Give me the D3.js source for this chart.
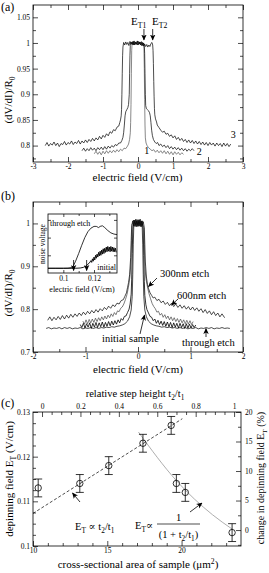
<!DOCTYPE html>
<html><head><meta charset="utf-8">
<script src="https://cdn.jsdelivr.net/npm/d3@7"></script>
<style>body{margin:0;background:#fff}svg{display:block}svg text{font-family:"Liberation Serif","Times New Roman","DejaVu Serif",serif}</style>
</head><body><svg id="c" width="269" height="573"></svg>
<script>
// ---------------- DATA ----------------
// Panel (a): dV/dI / R0 vs electric field, three samples
const a_curve3 = [[-2.65,.800],[-2.60,.806],[-2.55,.799],[-2.50,.804],[-2.45,.801],[-2.40,.807],[-2.35,.800],[-2.30,.805],[-2.25,.798],[-2.20,.804],[-2.15,.802],[-2.10,.808],[-2.05,.801],[-2.00,.806],[-1.95,.803],[-1.90,.809],[-1.85,.802],[-1.80,.807],[-1.75,.804],[-1.70,.810],[-1.65,.803],[-1.60,.809],[-1.55,.805],[-1.50,.811],[-1.45,.806],[-1.40,.812],[-1.35,.808],[-1.30,.814],[-1.25,.809],[-1.20,.815],[-1.15,.811],[-1.10,.818],[-1.05,.813],[-1.00,.820],[-0.95,.816],[-0.90,.823],[-0.85,.819],[-0.80,.827],[-0.75,.824],[-0.70,.831],[-0.65,.829],[-0.60,.836],[-0.55,.838],[-0.52,.845],[-0.50,.850],[-0.48,.858],[-0.47,.870],[-0.46,.900],[-0.45,.940],[-0.44,.975],[-0.43,.992],[-0.41,1.001],[-0.38,.996],[-0.35,1.002],[-0.32,.997],[-0.29,1.001],[-0.26,.995],[-0.23,1.003],[-0.20,.998],[-0.17,1.002],[-0.14,.996],[-0.11,1.004],[-0.08,.997],[-0.05,1.001],[-0.02,.996],[0.01,1.003],[0.04,.998],[0.07,1.002],[0.10,.995],[0.13,1.001],[0.16,.994],[0.19,.998],[0.22,.993],[0.25,.997],[0.28,.992],[0.31,.996],[0.34,.993],[0.37,.999],[0.40,1.001],[0.42,.996],[0.43,.985],[0.44,.960],[0.45,.925],[0.46,.895],[0.47,.872],[0.48,.860],[0.50,.852],[0.53,.846],[0.55,.840],[0.60,.835],[0.65,.830],[0.70,.826],[0.75,.828],[0.80,.822],[0.85,.824],[0.90,.818],[0.95,.821],[1.00,.815],[1.05,.819],[1.10,.812],[1.15,.816],[1.20,.810],[1.25,.814],[1.30,.808],[1.35,.812],[1.40,.806],[1.45,.811],[1.50,.805],[1.55,.810],[1.60,.804],[1.65,.809],[1.70,.803],[1.75,.808],[1.80,.802],[1.85,.807],[1.90,.801],[1.95,.806],[2.00,.800],[2.05,.806],[2.10,.801],[2.15,.805],[2.20,.799],[2.25,.805],[2.30,.800],[2.35,.804],[2.40,.798],[2.45,.805],[2.50,.799],[2.55,.804],[2.60,.798],[2.65,.803]];
const a_curve2 = [[-1.60,.790],[-1.55,.795],[-1.50,.789],[-1.45,.794],[-1.40,.790],[-1.35,.796],[-1.30,.791],[-1.25,.795],[-1.20,.790],[-1.15,.796],[-1.10,.792],[-1.05,.797],[-1.00,.792],[-0.95,.798],[-0.90,.793],[-0.85,.799],[-0.80,.795],[-0.75,.800],[-0.70,.797],[-0.65,.802],[-0.60,.800],[-0.55,.805],[-0.50,.805],[-0.46,.810],[-0.43,.816],[-0.41,.825],[-0.39,.840],[-0.37,.858],[-0.35,.866],[-0.32,.870],[-0.29,.874],[-0.27,.880],[-0.25,.900],[-0.24,.940],[-0.23,.975],[-0.22,.995],[-0.20,1.002],[-0.17,.997],[-0.14,1.003],[-0.11,.996],[-0.08,1.002],[-0.05,.998],[-0.02,1.004],[0.01,.997],[0.04,1.002],[0.07,.996],[0.10,1.001],[0.13,.995],[0.16,1.000],[0.18,.996],[0.19,.980],[0.20,.940],[0.21,.900],[0.22,.878],[0.24,.872],[0.27,.870],[0.30,.868],[0.33,.864],[0.35,.858],[0.37,.845],[0.39,.830],[0.41,.820],[0.44,.812],[0.48,.807],[0.52,.804],[0.56,.806],[0.60,.800],[0.65,.803],[0.70,.798],[0.75,.801],[0.80,.796],[0.85,.800],[0.90,.794],[0.95,.798],[1.00,.793],[1.05,.797],[1.10,.792],[1.15,.796],[1.20,.791],[1.25,.795],[1.30,.790],[1.35,.794],[1.40,.789],[1.45,.793],[1.50,.790],[1.55,.794],[1.60,.790]];
const a_curve1 = [[-1.25,.784],[-1.20,.789],[-1.15,.783],[-1.10,.788],[-1.05,.782],[-1.00,.789],[-0.95,.784],[-0.90,.790],[-0.85,.785],[-0.80,.790],[-0.75,.786],[-0.70,.791],[-0.65,.787],[-0.60,.792],[-0.55,.788],[-0.50,.793],[-0.45,.790],[-0.40,.795],[-0.35,.794],[-0.30,.799],[-0.27,.803],[-0.24,.812],[-0.22,.825],[-0.21,.845],[-0.20,.880],[-0.19,.940],[-0.18,.985],[-0.17,.998],[-0.14,1.003],[-0.11,.996],[-0.08,1.002],[-0.05,.997],[-0.02,1.003],[0.01,.996],[0.04,1.002],[0.07,.997],[0.10,1.003],[0.13,.996],[0.15,1.000],[0.17,.990],[0.18,.950],[0.19,.890],[0.20,.840],[0.21,.815],[0.23,.805],[0.26,.800],[0.30,.796],[0.35,.793],[0.40,.790],[0.45,.792],[0.50,.787],[0.55,.791],[0.60,.786],[0.65,.790],[0.70,.785],[0.75,.790],[0.80,.784],[0.85,.789],[0.90,.783],[0.95,.788],[1.00,.782],[1.05,.788],[1.10,.783],[1.15,.787],[1.20,.782],[1.25,.786],[1.30,.783]];
const a_xTicks = [-3,-2,-1,0,1,2,3];
const a_yTicks = [0.8,0.85,0.9,0.95,1,1.05];
const a_thresholds = [0.17, 0.42];   // E_T1, E_T2

// Panel (b): four etch stages
const b_through = [[-1.75,.755],[-1.70,.757],[-1.65,.754],[-1.60,.756],[-1.55,.755],[-1.50,.757],[-1.45,.754],[-1.40,.757],[-1.35,.755],[-1.30,.757],[-1.25,.754],[-1.20,.756],[-1.15,.755],[-1.10,.757],[-1.05,.754],[-1.00,.756],[-0.95,.755],[-0.90,.757],[-0.85,.755],[-0.80,.757],[-0.75,.755],[-0.70,.757],[-0.65,.756],[-0.60,.758],[-0.55,.757],[-0.50,.759],[-0.45,.758],[-0.40,.760],[-0.35,.761],[-0.30,.763],[-0.25,.766],[-0.20,.772],[-0.16,.782],[-0.13,.798],[-0.11,.830],[-0.10,.880],[-0.09,.950],[-0.08,.995],[-0.06,1.005],[-0.04,.997],[-0.02,1.006],[0,.996],[0.02,1.005],[0.04,.997],[0.06,1.004],[0.08,.994],[0.09,.950],[0.10,.880],[0.11,.830],[0.13,.798],[0.16,.782],[0.20,.772],[0.25,.766],[0.30,.763],[0.35,.761],[0.40,.760],[0.45,.758],[0.50,.759],[0.55,.757],[0.60,.758],[0.65,.756],[0.70,.757],[0.75,.755],[0.80,.757],[0.85,.755],[0.90,.757],[0.95,.754],[1.00,.756],[1.05,.755],[1.10,.757],[1.15,.754],[1.20,.756],[1.25,.755],[1.30,.757],[1.35,.755],[1.40,.757],[1.45,.754],[1.50,.756],[1.55,.755],[1.60,.757],[1.65,.755],[1.70,.756],[1.75,.755]];
const b_initial = [[-1.10,.764],[-1.07,.757],[-1.04,.767],[-1.01,.756],[-0.98,.766],[-0.95,.758],[-0.92,.768],[-0.89,.755],[-0.86,.767],[-0.83,.758],[-0.80,.769],[-0.77,.757],[-0.74,.768],[-0.71,.759],[-0.68,.770],[-0.65,.758],[-0.62,.769],[-0.59,.760],[-0.56,.771],[-0.53,.761],[-0.50,.772],[-0.47,.763],[-0.44,.773],[-0.41,.765],[-0.38,.775],[-0.35,.768],[-0.32,.778],[-0.29,.774],[-0.26,.783],[-0.23,.784],[-0.20,.792],[-0.17,.800],[-0.15,.812],[-0.13,.835],[-0.12,.870],[-0.11,.930],[-0.10,.985],[-0.08,1.008],[-0.06,.993],[-0.04,1.010],[-0.02,.992],[0,1.009],[0.02,.994],[0.04,1.010],[0.06,.992],[0.08,1.006],[0.10,.985],[0.11,.925],[0.12,.865],[0.13,.832],[0.15,.810],[0.17,.799],[0.20,.791],[0.23,.783],[0.26,.781],[0.29,.773],[0.32,.777],[0.35,.767],[0.38,.774],[0.41,.764],[0.44,.772],[0.47,.762],[0.50,.771],[0.53,.760],[0.56,.770],[0.59,.759],[0.62,.769],[0.65,.757],[0.68,.768],[0.71,.758],[0.74,.767],[0.77,.756],[0.80,.767],[0.83,.757],[0.86,.766],[0.89,.755],[0.92,.766],[0.95,.756],[0.98,.765],[1.01,.756],[1.04,.764],[1.07,.757],[1.10,.763]];
const b_300nm = [[-1.05,.772],[-1.02,.765],[-0.99,.775],[-0.96,.766],[-0.93,.776],[-0.90,.768],[-0.87,.777],[-0.84,.769],[-0.81,.779],[-0.78,.771],[-0.75,.780],[-0.72,.773],[-0.69,.782],[-0.66,.775],[-0.63,.784],[-0.60,.777],[-0.57,.786],[-0.54,.780],[-0.51,.789],[-0.48,.783],[-0.45,.792],[-0.42,.787],[-0.39,.796],[-0.36,.794],[-0.33,.802],[-0.30,.805],[-0.27,.812],[-0.24,.822],[-0.21,.834],[-0.19,.846],[-0.17,.860],[-0.15,.880],[-0.13,.920],[-0.12,.970],[-0.11,.998],[-0.09,1.004],[-0.07,.994],[-0.05,1.007],[-0.03,.995],[-0.01,1.006],[0.01,.993],[0.03,1.007],[0.05,.995],[0.07,1.005],[0.09,.996],[0.11,.990],[0.12,.950],[0.13,.900],[0.15,.872],[0.17,.858],[0.19,.846],[0.21,.836],[0.24,.824],[0.27,.813],[0.30,.806],[0.33,.801],[0.36,.793],[0.39,.795],[0.42,.786],[0.45,.790],[0.48,.781],[0.51,.787],[0.54,.778],[0.57,.784],[0.60,.775],[0.63,.782],[0.66,.773],[0.69,.780],[0.72,.771],[0.75,.778],[0.78,.769],[0.81,.777],[0.84,.768],[0.87,.775],[0.90,.766],[0.93,.774],[0.96,.765],[0.99,.773],[1.02,.764],[1.05,.771]];
const b_600nm = [[-1.72,.774],[-1.68,.782],[-1.64,.773],[-1.60,.781],[-1.56,.775],[-1.52,.783],[-1.48,.776],[-1.44,.785],[-1.40,.777],[-1.36,.786],[-1.32,.779],[-1.28,.788],[-1.24,.781],[-1.20,.789],[-1.16,.783],[-1.12,.791],[-1.08,.785],[-1.04,.793],[-1.00,.787],[-0.96,.795],[-0.92,.789],[-0.88,.797],[-0.84,.791],[-0.80,.799],[-0.76,.793],[-0.72,.801],[-0.68,.796],[-0.64,.804],[-0.60,.799],[-0.56,.807],[-0.52,.802],[-0.48,.810],[-0.44,.806],[-0.40,.814],[-0.36,.812],[-0.32,.820],[-0.28,.822],[-0.25,.830],[-0.22,.838],[-0.20,.850],[-0.18,.862],[-0.16,.880],[-0.14,.920],[-0.13,.960],[-0.12,.995],[-0.10,1.006],[-0.08,.994],[-0.06,1.008],[-0.04,.993],[-0.02,1.007],[0,.994],[0.02,1.008],[0.04,.993],[0.06,1.006],[0.08,.995],[0.10,1.004],[0.12,.990],[0.13,.950],[0.14,.910],[0.16,.875],[0.18,.858],[0.20,.848],[0.23,.838],[0.26,.832],[0.29,.826],[0.32,.828],[0.36,.820],[0.40,.823],[0.44,.815],[0.48,.819],[0.52,.811],[0.56,.816],[0.60,.808],[0.64,.814],[0.68,.806],[0.72,.812],[0.76,.804],[0.80,.810],[0.84,.802],[0.88,.808],[0.92,.800],[0.96,.806],[1.00,.798],[1.04,.805],[1.08,.797],[1.12,.803],[1.16,.795],[1.20,.801],[1.24,.792],[1.28,.799],[1.32,.790],[1.36,.796],[1.40,.787],[1.44,.794],[1.48,.785],[1.52,.791],[1.56,.782],[1.60,.789],[1.65,.780]];
const b_xTicks = [-2,-1,0,1,2];
const b_yTicks = [0.7,0.8,0.9,1];
// inset: noise voltage (arb. units) vs electric field
const inset_through = [[0.090,.08],[0.095,.08],[0.100,.08],[0.103,.082],[0.105,.09],[0.1065,.12],[0.108,.2],[0.110,.33],[0.112,.47],[0.114,.6],[0.116,.7],[0.118,.76],[0.120,.79],[0.1215,.79],[0.123,.77],[0.124,.79],[0.1255,.8],[0.127,.77],[0.129,.72],[0.131,.68],[0.133,.66],[0.135,.65]];
const inset_initial = [[0.090,.08],[0.100,.08],[0.108,.08],[0.111,.085],[0.113,.095],[0.115,.12],[0.116,.15],[0.117,.17],[0.118,.21],[0.1185,.18],[0.119,.24],[0.1195,.2],[0.120,.27],[0.1205,.22],[0.121,.3],[0.1215,.25],[0.122,.32],[0.1225,.27],[0.123,.35],[0.1235,.29],[0.124,.37],[0.1245,.3],[0.125,.39],[0.1255,.32],[0.126,.41],[0.1265,.33],[0.127,.42],[0.1275,.35],[0.128,.44],[0.1285,.36],[0.129,.45],[0.1295,.37],[0.130,.44],[0.1305,.36],[0.131,.45],[0.1315,.37],[0.132,.44],[0.1325,.36],[0.133,.43],[0.1335,.36],[0.134,.42],[0.1345,.35]];
const inset_xTicks = [0.1, 0.12];
const inset_arrows = [0.1067, 0.1152];

// Panel (c): depinning field vs cross-sectional area
const c_area = [10.35, 13.15, 15.1, 17.4, 19.3, 19.65, 20.25, 23.4];
const c_ET   = [0.113, 0.114, 0.118, 0.123, 0.127, 0.114, 0.112, 0.103];
const c_err  = [0.002, 0.002, 0.002, 0.002, 0.002, 0.002, 0.002, 0.002];
const c_fitLinX = [10, 20.05];
const c_fitLinY = [0.1073, 0.1285];
const c_fitInvX = [17.1, 19.66, 22.08, 23.4];
const c_fitInvY = [0.1255, 0.1146, 0.1070, 0.1038];
const c_xTicks = [10, 15, 20];
const c_yTicks = [0.1, 0.11, 0.12, 0.13];
const c_topTicks = [0, 0.2, 0.4, 0.6, 0.8, 1];
const c_rightTicks = [0, 5, 10, 15, 20];

// ---------------- DRAWING ----------------
const SERIF = '"Liberation Serif","Times New Roman","DejaVu Serif",serif';
const svg = d3.select("#c");
svg.append("rect").attr("width",269).attr("height",573).attr("fill","#fff");
const defs = svg.append("defs");
defs.append("marker").attr("id","ah").attr("viewBox","0 0 10 10").attr("refX",9).attr("refY",5)
  .attr("markerWidth",6).attr("markerHeight",6).attr("markerUnits","userSpaceOnUse").attr("orient","auto")
  .append("path").attr("d","M0,0.5 L10,5 L0,9.5 L2.5,5 Z").attr("fill","#000");

function axis(gen, tx, ty, fs) {
  const a = svg.append("g").attr("transform",`translate(${tx},${ty})`).call(gen);
  a.attr("font-family", null);
  a.select(".domain").remove();
  a.selectAll(".tick line").attr("stroke","#000").attr("stroke-width",0.7);
  a.selectAll(".tick text").style("font-family",SERIF).attr("font-size",fs||8).attr("fill","#000");
  return a;
}
function rich(x, y, parts, fs, anchor, rot) {
  const t = svg.append("text").attr("x",x).attr("y",y).style("font-family",SERIF)
    .attr("font-size",fs).attr("text-anchor",anchor||"start").attr("fill","#000");
  if (rot) t.attr("transform",`rotate(${rot},${x},${y})`);
  let shift = 0;
  parts.forEach(p => {
    const s = typeof p === "string" ? p : p[0];
    const k = typeof p === "string" ? "" : p[1];
    const target = k==="sub" ? fs*0.3 : k==="sup" ? -fs*0.4 : 0;
    const ts = t.append("tspan").text(s).attr("dy", target - shift);
    if (k) ts.attr("font-size", fs*0.7);
    shift = target;
  });
  return t;
}
function arrow(x1,y1,x2,y2){
  svg.append("line").attr("x1",x1).attr("y1",y1).attr("x2",x2).attr("y2",y2)
    .attr("stroke","#000").attr("stroke-width",0.8).attr("marker-end","url(#ah)");
}
function box(B){
  svg.append("rect").attr("x",B.l).attr("y",B.t).attr("width",B.r-B.l).attr("height",B.b-B.t)
    .attr("fill","none").attr("stroke","#000").attr("stroke-width",0.8);
}
function trace(data, x, y, w, col){
  svg.append("path").datum(data).attr("fill","none").attr("stroke",col||"#000")
    .attr("stroke-width",w||0.7).attr("stroke-linejoin","round")
    .attr("d", d3.line().x(d=>x(d[0])).y(d=>y(d[1])));
}
function mirrorFrame(B, x, y, xMaj, xMin, yMaj, yMin, xPad, yPad){
  axis(d3.axisBottom(x).tickValues(xMaj).tickSize(-5).tickPadding(xPad).tickFormat(d=>String(d)), 0, B.b, 7.5);
  axis(d3.axisBottom(x).tickValues(xMin).tickSize(-3).tickFormat(""), 0, B.b);
  axis(d3.axisTop(x).tickValues(xMaj).tickSize(-5).tickFormat(""), 0, B.t);
  axis(d3.axisTop(x).tickValues(xMin).tickSize(-3).tickFormat(""), 0, B.t);
  axis(d3.axisLeft(y).tickValues(yMaj).tickSize(-5).tickPadding(yPad).tickFormat(d=>String(d)), B.l, 0, 7.5);
  axis(d3.axisLeft(y).tickValues(yMin).tickSize(-3).tickFormat(""), B.l, 0);
  axis(d3.axisRight(y).tickValues(yMaj).tickSize(-5).tickFormat(""), B.r, 0);
  axis(d3.axisRight(y).tickValues(yMin).tickSize(-3).tickFormat(""), B.r, 0);
}

// ----- Panel (a)
const A = {l:33, r:243, t:5, b:162};
const xa = d3.scaleLinear().domain([-3,3]).range([A.l,A.r]);
const ya = d3.scaleLinear().domain([0.768,1.074]).range([A.b,A.t]);
trace(a_curve1, xa, ya, 0.7, "#555");
trace(a_curve2, xa, ya, 0.7);
trace(a_curve3, xa, ya, 0.7);
box(A);
mirrorFrame(A, xa, ya, a_xTicks, [-2.5,-1.5,-0.5,0.5,1.5,2.5], a_yTicks, [0.775,0.825,0.875,0.925,0.975,1.025], 1.5, 3);
rich(1, 11, ["(a)"], 12);
rich(137.5, 181, ["electric field (V/cm)"], 11, "middle");
rich(12, 100, ["(dV/dI)/R",["0","sub"]], 11, "middle", -90);
a_thresholds.forEach(v => arrow(xa(v), 29, xa(v), 40));
rich(131, 25, ["E",["T1","sub"]], 11);
rich(152, 25, ["E",["T2","sub"]], 11);
rich(xa(0.18), 154, ["1"], 10);
rich(xa(1.68), 155, ["2"], 10);
rich(xa(2.65), 138, ["3"], 10);

// ----- Panel (b)
const B = {l:33, r:243, t:202, b:352};
const xb = d3.scaleLinear().domain([-2,2]).range([B.l,B.r]);
const yb = d3.scaleLinear().domain([0.7,1.05]).range([B.b,B.t]);
trace(b_through, xb, yb, 0.7);
trace(b_initial, xb, yb, 0.8);
trace(b_300nm, xb, yb, 0.7, "#444");
trace(b_600nm, xb, yb, 0.7);
box(B);
mirrorFrame(B, xb, yb, b_xTicks, [-1.5,-0.5,0.5,1.5], b_yTicks, [0.75,0.85,0.95], 1.5, 3);
rich(1, 200, ["(b)"], 12);
rich(138, 373, ["electric field (V/cm)"], 11, "middle");
rich(12, 293, ["(dV/dI)/R",["0","sub"]], 11, "middle", -90);
rich(160, 277, ["300nm etch"], 10.5);
arrow(157, 278, 148.5, 286.5);
rich(177, 299, ["600nm etch"], 10.5);
arrow(178, 299, 171.5, 305);
rich(102, 342, ["initial sample"], 10.5);
arrow(140, 334, 144.5, 315);
rich(182, 346, ["through etch"], 10.5);
arrow(206, 337, 206, 328.5);

// inset
const I = {l:48, r:117, t:214, b:273};
const xi = d3.scaleLinear().domain([0.09,0.135]).range([I.l,I.r]);
const yi = d3.scaleLinear().domain([0,1]).range([I.b,I.t]);
svg.append("rect").attr("x",I.l).attr("y",I.t).attr("width",I.r-I.l).attr("height",I.b-I.t).attr("fill","#fff");
trace(inset_through, xi, yi, 0.8);
trace(inset_initial, xi, yi, 0.9);
box(I);
axis(d3.axisBottom(xi).tickValues(inset_xTicks).tickSize(-3).tickPadding(3).tickFormat(d=>String(d)), 0, I.b, 7.5);
axis(d3.axisBottom(xi).tickValues([0.11,0.13]).tickSize(-2).tickFormat(""), 0, I.b);
axis(d3.axisTop(xi).tickValues(inset_xTicks).tickSize(-3).tickFormat(""), 0, I.t);
axis(d3.axisTop(xi).tickValues([0.11,0.13]).tickSize(-2).tickFormat(""), 0, I.t);
axis(d3.axisLeft(yi).tickValues([0.3,0.6,0.9]).tickSize(-3).tickFormat(""), I.l, 0);
axis(d3.axisRight(yi).tickValues([0.3,0.6,0.9]).tickSize(-3).tickFormat(""), I.r, 0);
inset_arrows.forEach(v => arrow(xi(v), 260, xi(v), 270.5));
rich(50, 226, ["through etch"], 8);
rich(116, 270, ["initial"], 8, "end");
rich(45, 244, ["noise voltage"], 7.5, "middle", -90);
rich(82, 292, ["electric field (V/cm)"], 8, "middle");

// ----- Panel (c)
const C = {l:33, r:241, t:412, b:546};
const xc = d3.scaleLinear().domain([10,24]).range([C.l,C.r]);
const yc = d3.scaleLinear().domain([0.1,0.13]).range([C.b,C.t]);
const xt = d3.scaleLinear().domain([-0.047,1.036]).range([C.l,C.r]);
const yr = d3.scaleLinear().domain([-2.7,20]).range([C.b,C.t]);
const lin = c_fitLinX.map((v,i)=>[v,c_fitLinY[i]]);
svg.append("path").datum(lin).attr("fill","none").attr("stroke","#000").attr("stroke-width",0.7)
  .attr("stroke-dasharray","3,2").attr("d", d3.line().x(d=>xc(d[0])).y(d=>yc(d[1])));
const inv = c_fitInvX.map((v,i)=>[v,c_fitInvY[i]]);
svg.append("path").datum(inv).attr("fill","none").attr("stroke","#999").attr("stroke-width",0.8)
  .attr("d", d3.line().curve(d3.curveMonotoneX).x(d=>xc(d[0])).y(d=>yc(d[1])));
const pts = c_area.map((v,i)=>({x:v, y:c_ET[i], e:c_err[i]}));
const pg = svg.append("g").attr("stroke","#000").attr("stroke-width",0.8).attr("fill","none");
pts.forEach(p => {
  const cx = xc(p.x);
  pg.append("line").attr("x1",cx).attr("x2",cx).attr("y1",yc(p.y-p.e)).attr("y2",yc(p.y+p.e));
  pg.append("line").attr("x1",cx-4).attr("x2",cx+4).attr("y1",yc(p.y-p.e)).attr("y2",yc(p.y-p.e));
  pg.append("line").attr("x1",cx-4).attr("x2",cx+4).attr("y1",yc(p.y+p.e)).attr("y2",yc(p.y+p.e));
  pg.append("circle").attr("cx",cx).attr("cy",yc(p.y)).attr("r",3.2);
});
box(C);
axis(d3.axisBottom(xc).tickValues(c_xTicks).tickSize(-5).tickPadding(1.5).tickFormat(d=>String(d)), 0, C.b, 7.5);
axis(d3.axisBottom(xc).tickValues([11,12,13,14,16,17,18,19,21,22,23]).tickSize(-3).tickFormat(""), 0, C.b);
axis(d3.axisTop(xt).tickValues(c_topTicks).tickSize(-5).tickPadding(3).tickFormat(d=>String(d)), 0, C.t, 7.5);
axis(d3.axisTop(xt).tickValues([0.05,0.1,0.15,0.25,0.3,0.35,0.45,0.5,0.55,0.65,0.7,0.75,0.85,0.9,0.95]).tickSize(-3).tickFormat(""), 0, C.t);
axis(d3.axisLeft(yc).tickValues(c_yTicks).tickSize(-5).tickPadding(3).tickFormat(d=>String(d)), C.l, 0, 7.5);
axis(d3.axisLeft(yc).tickValues([0.1025,0.105,0.1075,0.1125,0.115,0.1175,0.1225,0.125,0.1275]).tickSize(-3).tickFormat(""), C.l, 0);
axis(d3.axisRight(yr).tickValues(c_rightTicks).tickSize(-5).tickPadding(4).tickFormat(d=>String(d)), C.r, 0, 7.5);
axis(d3.axisRight(yr).tickValues([-2.5,2.5,7.5,12.5,17.5]).tickSize(-3).tickFormat(""), C.r, 0);
rich(1, 407, ["(c)"], 12);
rich(135, 397, ["relative step height t",["2","sub"],"/t",["1","sub"]], 10.5, "middle");
rich(138, 568, ["cross-sectional area of sample (\u03bcm",["2","sup"],")"], 11, "middle");
rich(13, 479, ["depinning field E",["T","sub"]," (V/cm)"], 11, "middle", -90);
rich(264, 478, ["change in depinning field E",["T","sub"]," (%)"], 10, "middle", -90);
rich(75, 530, ["E",["T","sub"]," \u221d t",["2","sub"],"/t",["1","sub"]], 10.5);
arrow(80, 502, 72.5, 493);
rich(135, 529, ["E",["T","sub"],"\u221d"], 10.5);
svg.append("line").attr("x1",157).attr("x2",200).attr("y1",524).attr("y2",524).attr("stroke","#000").attr("stroke-width",0.7);
rich(178.5, 521, ["1"], 10.5, "middle");
rich(178.5, 538, ["(1 + t",["2","sub"],"/t",["1","sub"],")"], 10.5, "middle");
arrow(190, 512, 202, 503);
</script></body></html>
